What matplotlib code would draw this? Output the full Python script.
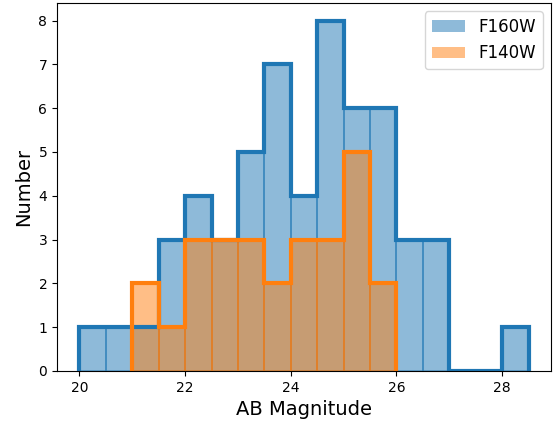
import numpy as np
import matplotlib
matplotlib.use("Agg")
import matplotlib.pyplot as plt

f160w_edges = [20.0, 20.5, 21.0, 21.5, 22.0, 22.5, 23.0, 23.5, 24.0, 24.5,
               25.0, 25.5, 26.0, 26.5, 27.0, 27.5, 28.0, 28.5]
f160w_counts = [1, 1, 1, 3, 4, 3, 5, 7, 4, 8, 6, 6, 3, 3, 0, 0, 1]
f140w_edges = [21.0, 21.5, 22.0, 22.5, 23.0, 23.5, 24.0, 24.5, 25.0, 25.5, 26.0]
f140w_counts = [2, 1, 3, 3, 3, 2, 3, 3, 5, 2]

fig = plt.figure(figsize=(5.54, 4.21), dpi=100)
ax = fig.add_axes([57/554, 50/421, (551-57)/554, (371-3)/421])

for edges_list, counts, color, label in [(f160w_edges, f160w_counts, "C0", "F160W"),
                                         (f140w_edges, f140w_counts, "C1", "F140W")]:
    edges = np.array(edges_list)
    centers = (edges[:-1] + edges[1:]) / 2
    ax.hist(centers, bins=edges, weights=counts, histtype="bar",
            color=color, alpha=0.5, edgecolor=color, linewidth=1.2, label=label)
    ax.hist(centers, bins=edges, weights=counts, histtype="step",
            color=color, linewidth=3)

ax.set_xlabel("AB Magnitude", fontsize=14)
ax.set_ylabel("Number", fontsize=14)
leg = ax.legend(loc="upper right", fontsize=12)
for h in leg.legend_handles:
    h.set_edgecolor("none")

fig.savefig("out.png", dpi=100)
